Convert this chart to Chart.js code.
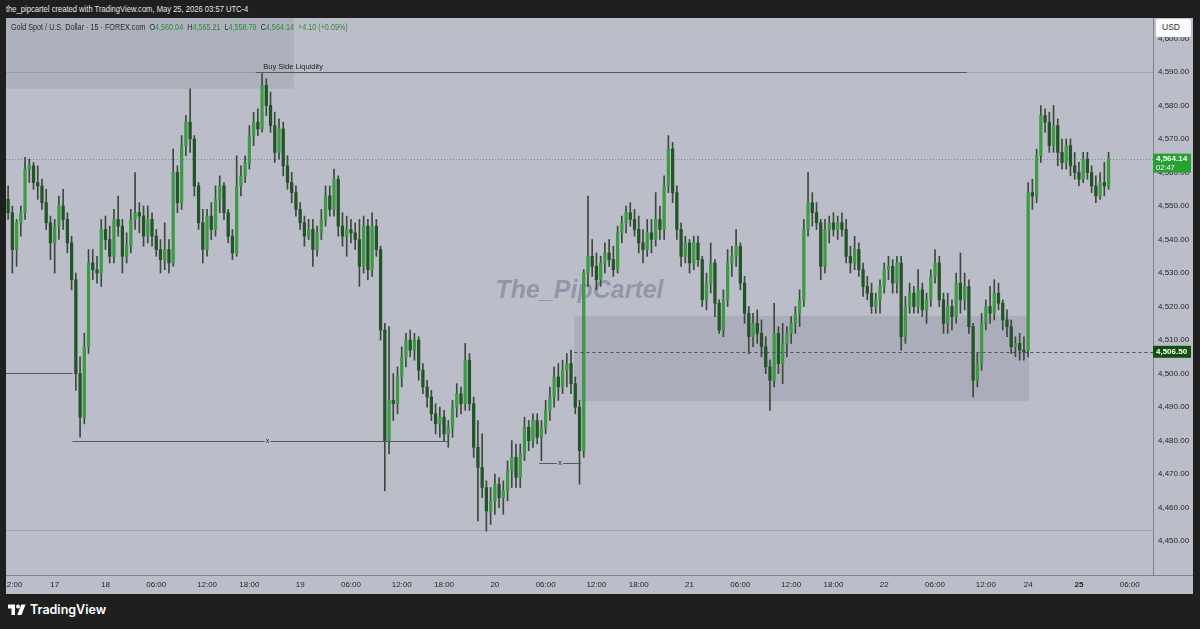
<!DOCTYPE html>
<html>
<head>
<meta charset="utf-8">
<script src="https://cdn.jsdelivr.net/npm/chart.js@4.4.1/dist/chart.umd.min.js"></script>
<style>
  html, body { margin: 0; padding: 0; }
  body { width: 1200px; height: 629px; background: #1f1f1f; position: relative; overflow: hidden;
         font-family: "Liberation Sans", sans-serif; }
  #credit { position: absolute; left: 6px; top: 3px; font-size: 9.5px; color: #e4e4e4; white-space: nowrap;
            transform: scaleX(0.8); transform-origin: 0 0; }
  #panel { position: absolute; left: 6px; top: 18px; width: 1187px; height: 576px; background: #bbbec9; }
  #legend { position: absolute; left: 11px; top: 21px; font-size: 9.5px; color: #2b2b2b; white-space: nowrap;
            transform: scaleX(0.76); transform-origin: 0 0; }
  #legend .g { color: #2f8a3c; }
  #usd { position: absolute; left: 1156px; top: 19px; width: 35px; height: 18px; background: #fbfbfd;
         border-radius: 2px; font-size: 8.5px; color: #333; line-height: 16px; text-indent: 6px; }
  #logo { position: absolute; left: 8px; top: 602px; color: #fff; font-family: "Inter", "Liberation Sans", sans-serif;
          font-size: 12.5px; font-weight: 600; display: flex; align-items: center; gap: 4px; }
</style>
</head>
<body>
<div id="credit">the_pipcartel created with TradingView.com, May 25, 2026 03:57 UTC-4</div>
<div id="panel"><canvas id="goldChart" width="1187" height="576"></canvas></div>
<div id="legend">Gold Spot / U.S. Dollar · 15 · FOREX.com&nbsp;&nbsp;O<span class="g">4,560.04</span>&nbsp;&nbsp;H<span class="g">4,565.21</span>&nbsp;&nbsp;L<span class="g">4,558.79</span>&nbsp;&nbsp;C<span class="g">4,564.14</span>&nbsp;&nbsp;<span class="g">+4.10 (+0.09%)</span></div>
<div id="usd">USD</div>
<div id="logo">
  <svg width="18" height="13" viewBox="0 0 36 26"><path d="M14 24H7V11H0V3h14v21z" fill="#fff"/><circle cx="20" cy="7" r="4" fill="#fff"/><path d="M27 24h-8.5L26.5 3H35L27 24z" fill="#fff"/></svg>
  <span>TradingView</span>
</div>
<script>
// ===== Sessions (30 min bars, exchange time) =====
const sessions = [
  ['2026-05-15T11:30', 11],
  ['2026-05-17T18:00', 46],
  ['2026-05-18T18:00', 46],
  ['2026-05-19T18:00', 46],
  ['2026-05-20T18:00', 46],
  ['2026-05-21T18:00', 46],
  ['2026-05-24T18:00', 30]
];

const tickLabels = [
  ['05-15 12:00', '12:00'], ['05-17 18:00', '17'], ['05-18 00:00', '18'], ['05-18 06:00', '06:00'],
  ['05-18 12:00', '12:00'], ['05-18 18:00', '18:00'], ['05-19 00:00', '19'], ['05-19 06:00', '06:00'],
  ['05-19 12:00', '12:00'], ['05-19 18:00', '18:00'], ['05-20 00:00', '20'], ['05-20 06:00', '06:00'],
  ['05-20 12:00', '12:00'], ['05-20 18:00', '18:00'], ['05-21 00:00', '21'], ['05-21 06:00', '06:00'],
  ['05-21 12:00', '12:00'], ['05-21 18:00', '18:00'], ['05-22 00:00', '22'], ['05-22 06:00', '06:00'],
  ['05-22 12:00', '12:00'], ['05-24 18:00', '24'], ['05-25 00:00', '25'], ['05-25 06:00', '06:00']
];

const priceTicks = [4450, 4460, 4470, 4480, 4490, 4500, 4510, 4520, 4530, 4540, 4550, 4560, 4570, 4580, 4590, 4600];

// ===== OHLC =====
const opens = [
  4552,4548,4537,4545,4548,4561,4562,4557,4556,4551,4545,4539,4544,4550,4546,4539,4528,4500,4487,4508,
  4533,4531,4530,4543,4540,4535,4546,4544,4535,4538,4546,4548,4547,4541,4546,4541,4537,4534,4537,4533,
  4560,4551,4568,4575,4570,4556,4545,4537,4547,4543,4552,4556,4548,4541,4536,4556,4559,4563,4571,4575,
  4573,4586,4580,4574,4566,4573,4562,4557,4554,4549,4545,4541,4543,4537,4542,4546,4553,4549,4558,4544,
  4541,4543,4542,4540,4532,4544,4531,4544,4537,4513,4480,4492,4491,4499,4505,4510,4507,4510,4501,4496,
  4493,4488,4485,4487,4482,4484,4490,4494,4491,4504,4491,4478,4472,4466,4459,4462,4467,4463,4465,4471,
  4475,4469,4476,4484,4480,4486,4481,4484,4489,4493,4499,4496,4501,4503,4497,4490,4477,4530,4535,4532,
  4528,4533,4536,4534,4531,4542,4545,4548,4546,4543,4539,4537,4542,4540,4546,4543,4556,4567,4554,4543,
  4535,4539,4533,4539,4534,4522,4527,4533,4521,4513,4522,4533,4535,4538,4527,4518,4511,4515,4512,4508,
  4502,4498,4512,4503,4509,4512,4515,4518,4522,4543,4551,4548,4545,4532,4543,4545,4543,4545,4543,4535,
  4533,4537,4531,4526,4524,4520,4522,4526,4531,4532,4527,4533,4511,4520,4524,4520,4525,4519,4522,4529,
  4533,4522,4515,4520,4517,4527,4522,4526,4514,4498,4503,4515,4520,4518,4524,4521,4516,4514,4508,4509,
  4507,4507,4554,4553,4565,4577,4575,4568,4574,4566,4563,4568,4562,4560,4558,4564,4560,4556,4553,4557,
  4556
];
const highs = [
  4556,4550,4546,4550,4564.5,4564,4563,4562,4558,4555,4547,4546,4553,4555,4548,4541,4530,4505,4512,4537,
  4537,4535,4546,4547,4544,4549,4553,4546,4542,4549,4560,4551,4550,4550,4548,4543,4540,4545,4540,4567,
  4562,4571,4577,4585,4571,4557,4549,4549,4551,4556,4559,4557,4549,4543,4565,4562,4565,4574,4578,4579,
  4589.5,4588,4584,4578,4576,4575,4565,4560,4556,4551,4547,4546,4546,4544,4549,4556,4556,4561,4559,4548,
  4547,4546,4545,4546,4547,4546,4548,4546,4538,4515,4514,4500,4502,4508,4512,4513,4512,4511,4503,4498,
  4495,4491,4490,4489,4486,4492,4497,4496,4509,4506,4493,4486,4482,4468,4466,4470,4469,4468,4474,4480,
  4479,4479,4487,4486,4488,4488,4486,4492,4496,4502,4503,4504,4506,4507,4499,4492,4531,4553,4540,4536,
  4535,4539,4540,4538,4544,4547,4550,4551,4549,4547,4543,4546,4546,4554,4550,4559,4571,4569,4556,4545,
  4541,4540,4541,4541,4535,4530,4539,4534,4522,4525,4537,4538,4543,4539,4529,4520,4518,4519,4516,4511,
  4504,4521,4514,4515,4514,4517,4520,4525,4546,4560,4554,4551,4546,4546,4547,4548,4547,4548,4546,4538,
  4541,4539,4533,4529,4527,4524,4528,4533,4535,4534,4535,4535,4523,4527,4526,4531,4527,4524,4531,4537,
  4535,4524,4524,4522,4530,4536,4530,4528,4515,4506,4518,4522,4526,4528,4527,4522,4519,4516,4511,4512,
  4511,4557,4558,4567,4580,4579,4578,4580,4576,4570,4570,4570,4566,4563,4566,4566,4562,4559,4560,4563,
  4566
];
const lows = [
  4546,4530,4532,4541,4546,4557,4555,4552,4549,4543,4534,4530,4540,4543,4536,4525,4495,4481,4485,4506,
  4528,4527,4526,4537,4533,4533,4541,4530,4533,4536,4543,4542,4538,4539,4538,4535,4530,4531,4530,4532,
  4548,4549,4565,4566,4553,4543,4533,4535,4540,4541,4548,4546,4539,4534,4535,4553,4557,4561,4568,4571,
  4572,4577,4572,4563,4564,4559,4555,4551,4547,4543,4538,4540,4532,4535,4540,4544,4547,4547,4541,4538,
  4535,4539,4537,4526,4530,4528,4529,4535,4510,4465,4476,4486,4488,4496,4502,4505,4504,4498,4494,4490,
  4486,4482,4481,4480,4478,4481,4487,4488,4489,4489,4475,4456,4463,4453,4455,4458,4460,4458,4462,4466,
  4466,4466,4474,4477,4478,4479,4474,4482,4486,4490,4492,4494,4496,4494,4488,4467,4475,4526,4529,4525,
  4526,4530,4532,4529,4530,4539,4542,4544,4541,4536,4533,4535,4536,4538,4540,4540,4554,4551,4540,4532,
  4533,4530,4531,4532,4520,4519,4524,4517,4512,4511,4520,4529,4532,4525,4515,4506,4508,4509,4505,4500,
  4489,4496,4500,4497,4505,4509,4512,4514,4520,4541,4544,4543,4528,4530,4539,4541,4540,4541,4533,4530,
  4531,4529,4523,4522,4518,4518,4518,4524,4528,4524,4524,4507,4509,4518,4518,4518,4517,4515,4520,4527,
  4520,4512,4512,4513,4515,4518,4519,4512,4493,4496,4501,4513,4515,4516,4519,4513,4511,4506,4505,4504,
  4504,4505,4549,4551,4563,4572,4566,4566,4562,4561,4561,4559,4558,4556,4557,4558,4554,4551,4552,4553,
  4555
];
const closes = [
  4548,4537,4545,4548,4561,4562,4557,4556,4551,4545,4539,4544,4550,4546,4539,4528,4500,4487,4508,4533,
  4531,4530,4543,4540,4535,4546,4544,4535,4538,4546,4548,4547,4541,4546,4541,4537,4534,4537,4533,4560,
  4551,4568,4575,4570,4556,4545,4537,4547,4543,4552,4556,4548,4541,4536,4556,4559,4563,4571,4575,4573,
  4586,4580,4574,4566,4573,4562,4557,4554,4549,4545,4541,4543,4537,4542,4546,4553,4549,4558,4544,4541,
  4543,4542,4540,4532,4544,4531,4544,4537,4513,4480,4492,4491,4499,4505,4510,4507,4510,4501,4496,4493,
  4488,4485,4487,4482,4484,4490,4494,4491,4504,4491,4478,4472,4466,4459,4462,4467,4463,4465,4471,4475,
  4469,4476,4484,4480,4486,4481,4484,4489,4493,4499,4496,4501,4503,4497,4490,4477,4530,4535,4532,4528,
  4533,4536,4534,4531,4542,4545,4548,4546,4543,4539,4537,4542,4540,4546,4543,4556,4567,4554,4543,4535,
  4539,4533,4539,4534,4522,4527,4533,4521,4513,4522,4533,4535,4538,4527,4518,4511,4515,4512,4508,4502,
  4498,4512,4503,4509,4512,4515,4518,4522,4543,4551,4548,4545,4532,4543,4545,4543,4545,4543,4535,4533,
  4537,4531,4526,4524,4520,4522,4526,4531,4532,4527,4533,4511,4520,4524,4520,4525,4519,4522,4529,4533,
  4522,4515,4520,4517,4527,4522,4526,4514,4498,4503,4515,4520,4518,4524,4521,4516,4514,4508,4509,4507,
  4506.5,4554,4553,4565,4577,4575,4568,4574,4566,4563,4568,4562,4560,4558,4564,4560,4556,4553,4557,4556,
  4564.14
];

// ===== Build categories from sessions =====
const times = [];
sessions.forEach(([start, n]) => {
  const t0 = Date.parse(start + ':00Z');
  for (let k = 0; k < n; k++) {
    times.push(new Date(t0 + k * 1800000).toISOString().slice(5, 16).replace('T', ' '));
  }
});
const tickMap = Object.fromEntries(tickLabels);

const upColor = '#3e9a45';
const downColor = '#245229';
const wickColor = '#3a4a3c';

const bodies = opens.map((o, k) => [o, closes[k]]);
const wicks = lows.map((l, k) => [l, highs[k]]);
const bodyColors = opens.map((o, k) => closes[k] >= o ? upColor : downColor);

const fmt = v => v.toLocaleString('en-US', { minimumFractionDigits: 2, maximumFractionDigits: 2 });
const axisFont = '"Liberation Sans", sans-serif';

// ===== Drawings on the price pane =====
const drawings = {
  id: 'drawings',
  beforeDatasetsDraw(chart) {
    const { ctx, chartArea: ca, scales: { x, y } } = chart;
    const X = i => x.getPixelForValue(i + 1);
    ctx.save();
    // watermark
    ctx.font = 'italic bold 25px "Liberation Sans", sans-serif';
    ctx.fillStyle = 'rgba(126,136,160,0.72)';
    ctx.textAlign = 'center';
    ctx.textBaseline = 'middle';
    ctx.fillText('The_PipCartel', (ca.left + ca.right) / 2, y.getPixelForValue(4524.6));
    // zones
    ctx.fillStyle = 'rgba(120,123,140,0.2)';
    ctx.fillRect(ca.left, ca.top, X(66.5) - ca.left, y.getPixelForValue(4585) - ca.top);
    ctx.fillStyle = 'rgba(120,123,140,0.24)';
    const zt = y.getPixelForValue(4517.2), zb = y.getPixelForValue(4491.8);
    ctx.fillRect(X(132.8), zt, X(240.2) - X(132.8), zb - zt);
    // faint levels
    ctx.strokeStyle = 'rgba(140,143,156,0.6)';
    ctx.lineWidth = 1;
    [4590, 4453.3].forEach(p => {
      const py = Math.round(y.getPixelForValue(p)) + 0.5;
      ctx.beginPath(); ctx.moveTo(ca.left, py); ctx.lineTo(ca.right, py); ctx.stroke();
    });
    ctx.setLineDash([1, 2]);
    ctx.strokeStyle = 'rgba(110,115,130,0.7)';
    const lp = Math.round(y.getPixelForValue(4564.14)) + 0.5;
    ctx.beginPath(); ctx.moveTo(ca.left, lp); ctx.lineTo(ca.right, lp); ctx.stroke();
    ctx.restore();
  },
  afterDatasetsDraw(chart) {
    const { ctx, chartArea: ca, scales: { x, y } } = chart;
    const X = i => x.getPixelForValue(i + 1);
    const hline = (p, i0, i1, color) => {
      const py = Math.round(y.getPixelForValue(p)) + 0.5;
      ctx.strokeStyle = color;
      ctx.beginPath(); ctx.moveTo(i0 === null ? ca.left : X(i0), py); ctx.lineTo(i1 === null ? ca.right : X(i1), py); ctx.stroke();
      return py;
    };
    ctx.save();
    ctx.lineWidth = 1;
    const by = hline(4590, 57.5, 225.5, '#55585f');
    hline(4500.3, null, 14.2, '#55585f');
    const ly = hline(4480, 14.2, 103, '#55585f');
    const sy = hline(4473.3, 124.5, 134.4, '#55585f');
    ctx.setLineDash([3, 3]);
    hline(4506.5, 132.8, null, '#4a4d57');
    ctx.setLineDash([]);
    ctx.fillStyle = '#1e1e1e';
    ctx.font = '7.5px "Liberation Sans", sans-serif';
    ctx.textBaseline = 'bottom';
    ctx.fillText('Buy Side Liquidity', X(59.3), by - 2);
    ctx.textAlign = 'center';
    ctx.textBaseline = 'middle';
    ctx.font = '7px "Liberation Sans", sans-serif';
    [[60.3, ly], [129.4, sy]].forEach(([i, py]) => {
      ctx.fillStyle = '#bbbec9';
      ctx.fillRect(X(i) - 3, py - 3, 6, 6);
      ctx.fillStyle = '#222';
      ctx.fillText('x', X(i), py);
    });
    ctx.restore();
  },
  afterDraw(chart) {
    const { ctx, chartArea: ca, scales: { y } } = chart;
    ctx.save();
    ctx.strokeStyle = '#80838f';
    ctx.lineWidth = 1;
    ctx.beginPath(); ctx.moveTo(0, ca.bottom + 0.5); ctx.lineTo(chart.width, ca.bottom + 0.5); ctx.stroke();
    // last price label
    const lp = y.getPixelForValue(4564.14);
    ctx.fillStyle = '#25a232';
    ctx.fillRect(ca.right, lp - 5, 38, 19);
    ctx.fillStyle = '#fff';
    ctx.textAlign = 'left';
    ctx.textBaseline = 'middle';
    ctx.font = 'bold 8px ' + axisFont;
    ctx.fillText('4,564.14', ca.right + 3, lp);
    ctx.font = '7.5px ' + axisFont;
    ctx.fillText('02:47', ca.right + 3, lp + 9);
    // level label
    const dp = y.getPixelForValue(4506.5);
    ctx.fillStyle = '#11500f';
    ctx.fillRect(ca.right, dp - 6, 38, 12);
    ctx.fillStyle = '#fff';
    ctx.font = 'bold 8px ' + axisFont;
    ctx.fillText('4,506.50', ca.right + 3, dp);
    ctx.restore();
  }
};

const ctx = document.getElementById('goldChart').getContext('2d');
const goldChart = new Chart(ctx, {
  type: 'bar',
  data: {
    labels: times,
    datasets: [
      { label: 'Body', data: bodies, backgroundColor: bodyColors, barThickness: 2.6, grouped: false, minBarLength: 1, borderWidth: 0 },
      { label: 'Wick', data: wicks, backgroundColor: wickColor, barThickness: 1, grouped: false, borderWidth: 0 }
    ]
  },
  options: {
    responsive: false,
    animation: false,
    layout: { padding: 0 },
    plugins: { legend: { display: false }, tooltip: { enabled: false } },
    scales: {
      x: {
        type: 'category',
        offset: true,
        grid: { display: false, drawTicks: false },
        border: { color: '#80838f' },
        ticks: {
          autoSkip: false, maxRotation: 0, minRotation: 0, padding: 5, color: '#262626',
          font: c => ({ family: axisFont, size: 8,
                        weight: c.tick && c.tick.label === '25' ? 'bold' : 'normal' }),
          callback: (v, i) => tickMap[times[i]] || ''
        },
        afterFit: s => { s.height = 19; s.paddingLeft = 0; s.paddingRight = 0; }
      },
      y: {
        position: 'right',
        min: 4439.9,
        max: 4606.1,
        afterBuildTicks: s => { s.ticks = priceTicks.map(v => ({ value: v })); },
        grid: { display: false, drawTicks: false },
        border: { color: '#80838f' },
        ticks: {
          padding: 5, color: '#262626',
          font: { family: axisFont, size: 8 },
          callback: v => fmt(v)
        },
        afterFit: s => { s.width = 40; s.paddingTop = 0; s.paddingBottom = 0; }
      }
    }
  },
  plugins: [drawings]
});
</script>
</body>
</html>
